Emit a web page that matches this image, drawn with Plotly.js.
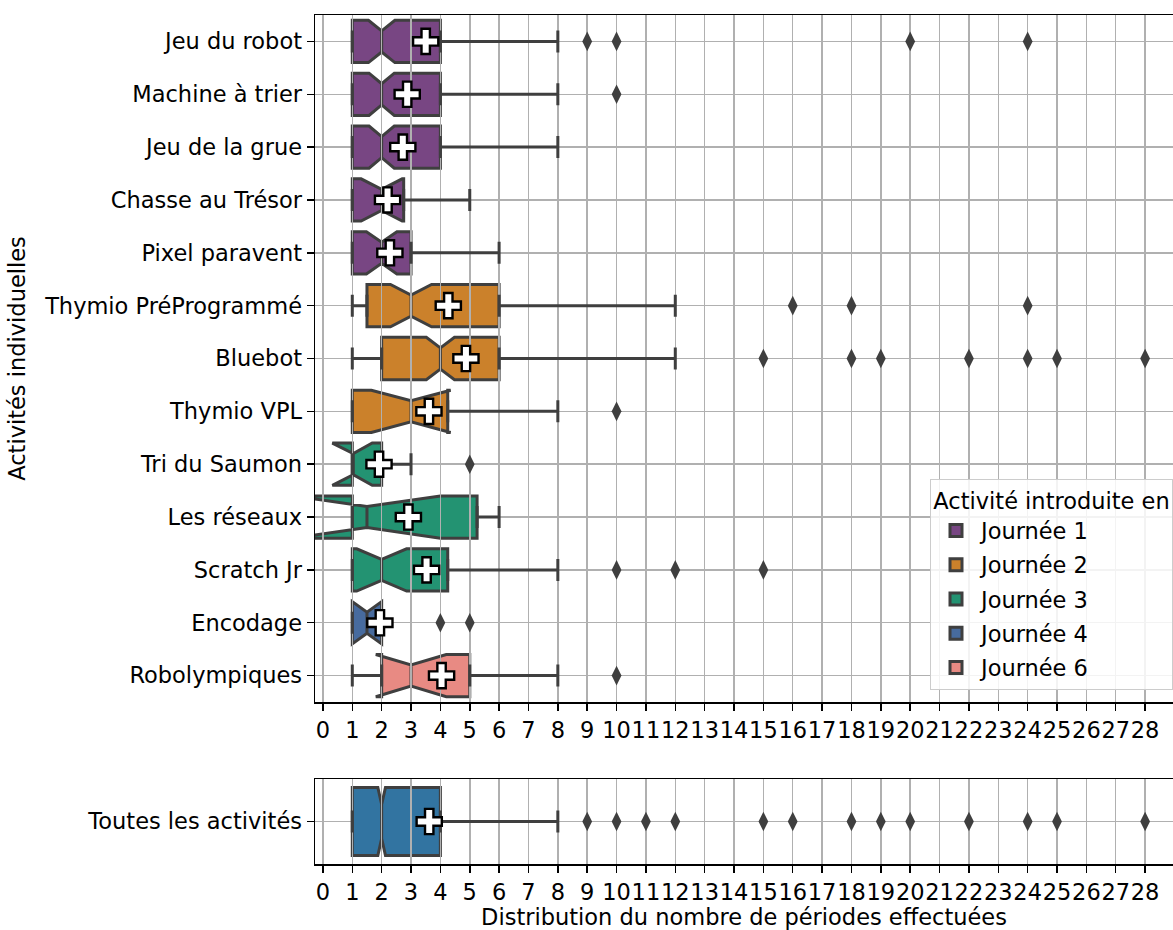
<!DOCTYPE html>
<html>
<head>
<meta charset="utf-8">
<script src="https://cdn.plot.ly/plotly-3.0.1.min.js"></script>
<style>html,body{margin:0;padding:0;background:#fff;}</style>
</head>
<body>
<div id="chart" style="width:1173px;height:930px;"></div>
<script>
// ---- Data ----
const categories = ['Jeu du robot', 'Machine à trier', 'Jeu de la grue', 'Chasse au Trésor', 'Pixel paravent',
  'Thymio PréProgrammé', 'Bluebot', 'Thymio VPL', 'Tri du Saumon', 'Les réseaux', 'Scratch Jr', 'Encodage', 'Robolympiques'];
const categoryJournee = ['Journée 1', 'Journée 1', 'Journée 1', 'Journée 1', 'Journée 1',
  'Journée 2', 'Journée 2', 'Journée 2', 'Journée 3', 'Journée 3', 'Journée 3', 'Journée 4', 'Journée 6'];
const q1Values     = [1, 1, 1, 1, 1, 1.5, 2, 1, 1, 1, 1, 1, 2];
const medianValues = [2, 2, 2, 2, 2, 3, 4, 3, 1, 1.5, 2, 1.5, 3];
const q3Values     = [4, 4, 4, 2.75, 3, 6, 6, 4.25, 2, 5.25, 4.25, 2, 5];
const lowerWhisker = [1, 1, 1, 1, 1, 1, 1, 1, 1, 1, 1, 1, 1];
const upperWhisker = [8, 8, 8, 5, 6, 12, 12, 8, 3, 6, 8, 2, 8];
const notchSpans   = [0.45, 0.43, 0.43, 0.7, 0.52, 0.7, 0.48, 1.35, 0.68, 2.5, 0.85, 0.5, 1.2];
const meanValues   = [3.5, 2.87, 2.72, 2.2, 2.28, 4.27, 4.87, 3.61, 1.91, 2.91, 3.53, 1.94, 4.04];
const outlierValues = [
  [9, 10, 20, 24], [10], [], [], [],
  [16, 18, 24], [15, 18, 19, 22, 24, 25, 28], [10],
  [5], [], [10, 12, 15], [4, 5], [10]
];

const allLabel = 'Toutes les activités';
const allQ1 = 1, allMedian = 2, allQ3 = 4, allLower = 1, allUpper = 8, allNotch = 0.13, allMean = 3.62;
const allOutliers = [9, 10, 11, 12, 15, 16, 18, 19, 20, 22, 24, 25, 28];

const journees = ['Journée 1', 'Journée 2', 'Journée 3', 'Journée 4', 'Journée 6'];
const journeeColors = ['#7F3C8D', '#E68310', '#11A579', '#3969AC', '#F97B72'];
const allColor = '#1f77b4';

const xTickValues = [0,1,2,3,4,5,6,7,8,9,10,11,12,13,14,15,16,17,18,19,20,21,22,23,24,25,26,27,28];

// ---- Style helpers ----
function desaturate(hex, prop) {
  let r = parseInt(hex.slice(1,3),16)/255, g = parseInt(hex.slice(3,5),16)/255, b = parseInt(hex.slice(5,7),16)/255;
  const mx = Math.max(r,g,b), mn = Math.min(r,g,b);
  let h = 0, s = 0; const l = (mx+mn)/2;
  if (mx !== mn) {
    const d = mx - mn;
    s = l > 0.5 ? d/(2-mx-mn) : d/(mx+mn);
    if (mx === r) h = ((g-b)/d + (g < b ? 6 : 0));
    else if (mx === g) h = (b-r)/d + 2;
    else h = (r-g)/d + 4;
    h /= 6;
  }
  s *= prop;
  function hue2rgb(p, q, t) {
    if (t < 0) t += 1; if (t > 1) t -= 1;
    if (t < 1/6) return p + (q-p)*6*t;
    if (t < 1/2) return q;
    if (t < 2/3) return p + (q-p)*(2/3 - t)*6;
    return p;
  }
  let rr, gg, bb;
  if (s === 0) { rr = gg = bb = l; }
  else {
    const q = l < 0.5 ? l*(1+s) : l + s - l*s;
    const p = 2*l - q;
    rr = hue2rgb(p,q,h+1/3); gg = hue2rgb(p,q,h); bb = hue2rgb(p,q,h-1/3);
  }
  return 'rgb(' + Math.round(rr*255) + ',' + Math.round(gg*255) + ',' + Math.round(bb*255) + ')';
}

const FONT = 'DejaVu Sans, Verdana, sans-serif';
const FS = 22.5;
const edgeColor = '#3f3f3f';
const gridColor = '#b0b0b0';
const outlierMarker = {symbol: 'diamond-tall', size: 14, color: edgeColor, line: {width: 0}};
const meanMarker = {symbol: 'cross', size: 21, color: 'white', line: {color: 'black', width: 2.4}};

function whiskerTrace(starts, ends, ys, xa, ya) {
  // a whisker drawn as an error bar from start to end (caps at both ends)
  return {
    type: 'scatter', mode: 'markers', x: starts, y: ys, showlegend: false, hoverinfo: 'skip',
    marker: {size: 1, opacity: 0},
    error_x: {type: 'data', symmetric: false, array: ends.map((e, i) => e - starts[i]),
              arrayminus: ends.map(() => 0), color: edgeColor, thickness: 3, width: 11},
    xaxis: xa, yaxis: ya
  };
}

const traces = [];

// boxes (top) on subplot xy, below the vertical grid overlay
journees.forEach((j, k) => {
  const idx = categories.map((c, i) => i).filter(i => categoryJournee[i] === j);
  traces.push({
    type: 'box', orientation: 'h', name: j, legendgroup: j,
    y: idx.map(i => categories[i]),
    q1: idx.map(i => q1Values[i]),
    median: idx.map(i => medianValues[i]),
    q3: idx.map(i => q3Values[i]),
    lowerfence: idx.map(i => lowerWhisker[i]),
    upperfence: idx.map(i => upperWhisker[i]),
    notchspan: idx.map(i => notchSpans[i]),
    notched: true, notchwidth: 0.25,
    width: 0.8, showwhiskers: false,
    boxpoints: 'outliers',
    fillcolor: desaturate(journeeColors[k], 0.75),
    line: {color: edgeColor, width: 3},
    xaxis: 'x', yaxis: 'y', hoverinfo: 'skip'
  });
});

// bottom box on subplot x2y2
traces.push({
  type: 'box', orientation: 'h', name: allLabel, showlegend: false,
  y: [allLabel], q1: [allQ1], median: [allMedian], q3: [allQ3],
  lowerfence: [allLower], upperfence: [allUpper], notchspan: [allNotch],
  notched: true, notchwidth: 0.25, width: 0.8, showwhiskers: false, boxpoints: 'outliers',
  fillcolor: desaturate(allColor, 0.75),
  line: {color: edgeColor, width: 3},
  xaxis: 'x2', yaxis: 'y2', hoverinfo: 'skip'
});

// empty traces for the grid overlay axes
traces.push({type: 'scatter', x: [], y: [], xaxis: 'x3', yaxis: 'y', showlegend: false, hoverinfo: 'skip'});
traces.push({type: 'scatter', x: [], y: [], xaxis: 'x4', yaxis: 'y2', showlegend: false, hoverinfo: 'skip'});

// whiskers, outliers and means (top) on subplot x5y5, drawn above the grid
traces.push(whiskerTrace(lowerWhisker, q1Values, categories, 'x5', 'y5'));
traces.push(whiskerTrace(q3Values, upperWhisker, categories, 'x5', 'y5'));
const outX = [], outY = [];
outlierValues.forEach((arr, i) => arr.forEach(v => { outX.push(v); outY.push(categories[i]); }));
traces.push({
  type: 'scatter', mode: 'markers', x: outX, y: outY, showlegend: false, hoverinfo: 'skip',
  marker: outlierMarker, xaxis: 'x5', yaxis: 'y5'
});
traces.push({
  type: 'scatter', mode: 'markers', x: meanValues, y: categories, showlegend: false, hoverinfo: 'skip',
  marker: meanMarker, xaxis: 'x5', yaxis: 'y5'
});

// bottom whiskers, outliers and mean on subplot x6y6
traces.push(whiskerTrace([allLower], [allQ1], [allLabel], 'x6', 'y6'));
traces.push(whiskerTrace([allQ3], [allUpper], [allLabel], 'x6', 'y6'));
traces.push({
  type: 'scatter', mode: 'markers', x: allOutliers, y: allOutliers.map(() => allLabel),
  showlegend: false, hoverinfo: 'skip', marker: outlierMarker, xaxis: 'x6', yaxis: 'y6'
});
traces.push({
  type: 'scatter', mode: 'markers', x: [allMean], y: [allLabel], showlegend: false, hoverinfo: 'skip',
  marker: meanMarker, xaxis: 'x6', yaxis: 'y6'
});

const W = 1173, H = 930, mL = 315, mR = 0, mT = 15, mB = 66;
const plotH = H - mT - mB;
const topBottomPx = 702, bottomTopPx = 779;
const topDomain = [(H - mB - topBottomPx) / plotH, 1];
const botDomain = [0, (H - mB - bottomTopPx) / plotH];
const topHeightPx = (topDomain[1] - topDomain[0]) * plotH;
const botHeightPx = (botDomain[1] - botDomain[0]) * plotH;
const xRange = [-0.27, 28.95];
const topYRange = [categories.length - 0.5, -0.5];
const botYRange = [0.5, -0.5];

const xCommon = {
  range: xRange, tickmode: 'array', tickvals: xTickValues, ticktext: xTickValues.map(String),
  tickangle: 0,
  showgrid: true, gridcolor: gridColor, gridwidth: 1.5, zeroline: false,
  showline: true, linecolor: 'black', linewidth: 1.5, mirror: true,
  ticks: 'outside', ticklen: 7, tickwidth: 1.5, tickcolor: 'black',
  tickfont: {family: FONT, size: FS, color: 'black'}
};
const gridOverlay = {
  range: xRange, tickmode: 'array', tickvals: xTickValues,
  showticklabels: false, showgrid: false, zeroline: false, showline: false,
  ticks: 'inside', tickwidth: 1.5, tickcolor: gridColor, layer: 'above traces', side: 'bottom'
};
const hiddenX = {range: xRange, visible: false, showgrid: false, zeroline: false, domain: [0, 1]};

const layout = {
  width: W, height: H,
  margin: {l: mL, r: mR, t: mT, b: mB},
  paper_bgcolor: 'white', plot_bgcolor: 'rgba(0,0,0,0)',
  font: {family: FONT, size: FS, color: 'black'},
  boxmode: 'overlay',
  showlegend: true,
  xaxis: Object.assign({}, xCommon, {domain: [0, 1], anchor: 'y'}),
  yaxis: {
    domain: topDomain, anchor: 'x', type: 'category',
    categoryorder: 'array', categoryarray: categories,
    range: topYRange,
    showgrid: true, gridcolor: gridColor, gridwidth: 1.5, zeroline: false,
    showline: true, linecolor: 'black', linewidth: 1.5, mirror: false,
    ticks: 'outside', ticklen: 7, tickwidth: 1.5, tickcolor: 'black',
    tickfont: {family: FONT, size: FS, color: 'black'},
    title: {text: 'Activités individuelles', font: {family: FONT, size: FS, color: 'black'}, standoff: 12}
  },
  xaxis2: Object.assign({}, xCommon, {
    domain: [0, 1], anchor: 'y2',
    title: {text: 'Distribution du nombre de périodes effectuées', font: {family: FONT, size: FS, color: 'black'}, standoff: 6}
  }),
  yaxis2: {
    domain: botDomain, anchor: 'x2', type: 'category',
    categoryorder: 'array', categoryarray: [allLabel],
    range: botYRange,
    showgrid: true, gridcolor: gridColor, gridwidth: 1.5, zeroline: false,
    showline: true, linecolor: 'black', linewidth: 1.5, mirror: false,
    ticks: 'outside', ticklen: 7, tickwidth: 1.5, tickcolor: 'black',
    tickfont: {family: FONT, size: FS, color: 'black'}
  },
  xaxis3: Object.assign({}, gridOverlay, {overlaying: 'x', anchor: 'y', ticklen: topHeightPx}),
  xaxis4: Object.assign({}, gridOverlay, {overlaying: 'x2', anchor: 'y2', ticklen: botHeightPx}),
  xaxis5: Object.assign({}, hiddenX, {anchor: 'y5'}),
  yaxis5: {domain: topDomain, anchor: 'x5', type: 'category', categoryorder: 'array',
           categoryarray: categories, range: topYRange, visible: false, showgrid: false, zeroline: false},
  xaxis6: Object.assign({}, hiddenX, {anchor: 'y6'}),
  yaxis6: {domain: botDomain, anchor: 'x6', type: 'category', categoryorder: 'array',
           categoryarray: [allLabel], range: botYRange, visible: false, showgrid: false, zeroline: false},
  legend: {
    x: 1, xanchor: 'right', y: (H - mB - 690) / plotH, yanchor: 'bottom',
    bgcolor: 'rgba(255,255,255,0.85)', bordercolor: '#cccccc', borderwidth: 1,
    font: {family: FONT, size: FS, color: 'black'},
    title: {text: 'Activité introduite en', side: 'top center', font: {family: FONT, size: FS, color: 'black'}},
    traceorder: 'grouped', tracegroupgap: 2, itemwidth: 40
  }
};

Plotly.newPlot('chart', traces, layout, {staticPlot: true, displayModeBar: false});
</script>
</body>
</html>
